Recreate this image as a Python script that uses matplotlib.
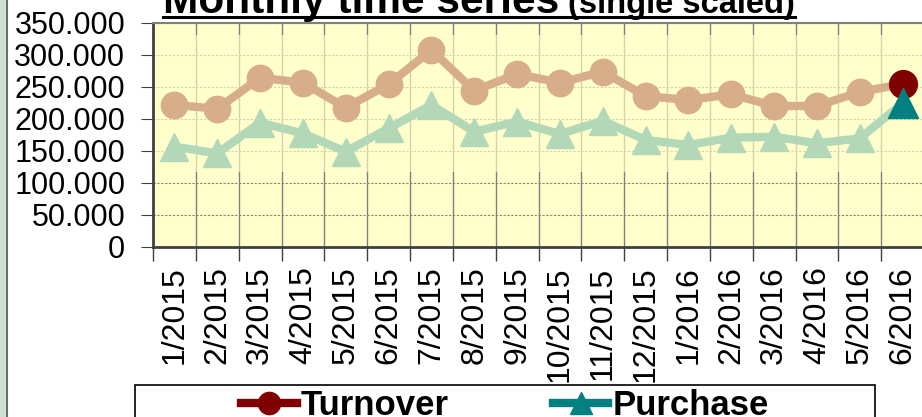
import matplotlib
matplotlib.use("Agg")
import matplotlib.pyplot as plt
from matplotlib.ticker import FuncFormatter, FixedLocator
from matplotlib.patches import Rectangle
from matplotlib.lines import Line2D
import numpy as np

plt.rcParams['font.family'] = ['Liberation Sans', 'DejaVu Sans']

months = ["1/2015", "2/2015", "3/2015", "4/2015", "5/2015", "6/2015", "7/2015",
          "8/2015", "9/2015", "10/2015", "11/2015", "12/2015", "1/2016", "2/2016",
          "3/2016", "4/2016", "5/2016", "6/2016"]
turnover = [222000, 216000, 264500, 256700, 217700, 254200, 307800, 244200, 270300,
            256700, 273900, 235900, 229700, 238600, 220300, 220300, 242200, 254700]
purchase = [156700, 146400, 194200, 177600, 148900, 185500, 221900, 180200, 195800,
            176600, 197300, 167200, 159400, 170800, 172300, 162000, 169800, 224500]

W, H = 922, 417
fig = plt.figure(figsize=(W / 100, H / 100), dpi=100)
fig.patch.set_facecolor('white')

# left decorative strip
fig.patches.append(Rectangle((0, 0), 6 / W, 1, transform=fig.transFigure,
                             facecolor='#cfe2cd', edgecolor='none', zorder=0))
fig.lines.append(Line2D([6.5 / W, 6.5 / W], [0, 1], transform=fig.transFigure,
                        color='#505050', lw=1.2))

left, right, top, bottom = 153, 924, 23, 247
ax = fig.add_axes([left / W, 1 - bottom / H, (right - left) / W, (bottom - top) / H])
ax.set_facecolor('#ffffcc')

x = np.arange(len(months))
ax.set_xlim(-0.5, len(months) - 0.5)
ax.set_ylim(0, 350000)

# grids
ax.yaxis.set_major_locator(FixedLocator(np.arange(0, 350001, 50000)))
ax.yaxis.set_major_formatter(FuncFormatter(lambda v, p: f"{int(v):,}".replace(",", ".")))
ax.set_xticks(x)
ax.set_xticklabels(months, rotation=90, fontsize=23)
ax.set_xticks(np.arange(-0.5, len(months), 1), minor=True)
ax.grid(axis='y', which='major', color='#808080', linestyle=(0, (2, 1.5)), lw=0.8, zorder=1)
ax.grid(axis='x', which='minor', color='#808080', linestyle='-', lw=1.0, zorder=1)
ax.tick_params(axis='x', which='major', length=0, pad=14)
ax.tick_params(axis='x', which='minor', length=10, color='#404040', width=1)
ax.tick_params(axis='y', which='major', length=9, color='#404040', labelsize=22, pad=11)
ax.set_axisbelow(True)

# faded band over plotted region
ax.axhspan(117000, 331000, color='#ffffcc', alpha=0.65, lw=0, zorder=1.5)

for s in ['left', 'bottom']:
    ax.spines[s].set_color('#404040')
    ax.spines[s].set_linewidth(2)
ax.spines['top'].set_color('#808080')
ax.spines['top'].set_linewidth(1.5)
ax.spines['right'].set_visible(False)

# series
ax.plot(x, turnover, color='#d8ae8a', lw=6, marker='o', ms=19, zorder=3)
ax.plot(x[-1:], turnover[-1:], color='#800000', marker='o', ms=20, lw=0, zorder=4)
ax.plot(x, purchase, color='#b2d8b8', lw=6, marker='^', ms=20, zorder=5)
ax.plot(x[-1:], purchase[-1:], color='#008080', marker='^', ms=21, lw=0, zorder=6)

# legend box
fig.patches.append(Rectangle((135 / W, -10 / H), (875 - 135) / W, (417 - 385 + 10) / H,
                             transform=fig.transFigure, facecolor='white',
                             edgecolor='black', lw=1.2, zorder=3))
h1 = Line2D([], [], color='#800000', lw=6, marker='o', ms=16)
h2 = Line2D([], [], color='#008080', lw=6, marker='^', ms=16)
leg = fig.legend([h1, h2], ['Turnover', 'Purchase'], loc='upper center',
                 bbox_to_anchor=(505 / W, 1 - 389 / H), ncol=2, frameon=False,
                 prop={'weight': 'bold', 'size': 25}, handlelength=1.6,
                 handletextpad=0.12, borderpad=0, columnspacing=3.0,
                 borderaxespad=0)
leg.set_zorder(4)

# title
ty = 1 - 13 / H
fig.text(163 / W, ty, "Monthly time series", fontsize=30.5, weight='bold',
         va='baseline', ha='left')
fig.text(568 / W, ty, "(single scaled)", fontsize=23.5, weight='bold',
         va='baseline', ha='left')
fig.lines.append(Line2D([163 / W, 795 / W], [1 - 17 / H, 1 - 17 / H],
                        transform=fig.transFigure, color='black', lw=2.2))

fig.savefig('out.png', dpi=100)
